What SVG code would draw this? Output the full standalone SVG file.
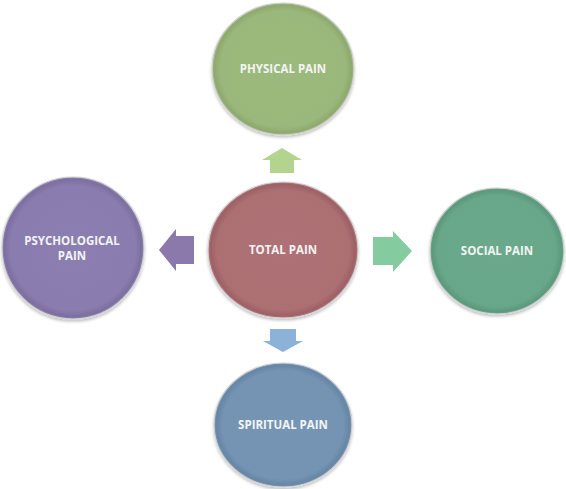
<svg xmlns="http://www.w3.org/2000/svg" width="566" height="489" viewBox="0 0 566 489">
  <defs>
    <style>
      .node { stroke: #d2d2d2; stroke-width: 1.2; filter: url(#shadow); }
      .label { font-family: "Open Sans", "Liberation Sans", sans-serif; font-weight: bold; font-size: 11.5px; fill: #f4f4f4; text-anchor: middle; }
      .arrow { stroke: none; }
    </style>
    <filter id="shadow" x="-10%" y="-10%" width="120%" height="125%">
      <feGaussianBlur in="SourceAlpha" stdDeviation="1.5"/>
      <feOffset dx="0" dy="1.5" result="b"/>
      <feComponentTransfer><feFuncA type="linear" slope="0.25"/></feComponentTransfer>
      <feMerge><feMergeNode/><feMergeNode in="SourceGraphic"/></feMerge>
    </filter>
    <radialGradient id="gGreen" cx="50%" cy="50%" r="50%">
      <stop offset="0" stop-color="#9dba7e"/>
      <stop offset="0.88" stop-color="#9bb87b"/>
      <stop offset="0.97" stop-color="#8ea96f"/>
      <stop offset="1" stop-color="#a9c38d"/>
    </radialGradient>
    <radialGradient id="gRed" cx="50%" cy="50%" r="50%">
      <stop offset="0" stop-color="#ae7175"/>
      <stop offset="0.88" stop-color="#ac6f73"/>
      <stop offset="0.97" stop-color="#9c6165"/>
      <stop offset="1" stop-color="#b98286"/>
    </radialGradient>
    <radialGradient id="gPurple" cx="50%" cy="50%" r="50%">
      <stop offset="0" stop-color="#8c7eb0"/>
      <stop offset="0.88" stop-color="#8a7cae"/>
      <stop offset="0.97" stop-color="#7c6fa0"/>
      <stop offset="1" stop-color="#9a8dbb"/>
    </radialGradient>
    <radialGradient id="gTeal" cx="50%" cy="50%" r="50%">
      <stop offset="0" stop-color="#6ba98c"/>
      <stop offset="0.88" stop-color="#69a78a"/>
      <stop offset="0.97" stop-color="#5c987c"/>
      <stop offset="1" stop-color="#7cb59a"/>
    </radialGradient>
    <radialGradient id="gBlue" cx="50%" cy="50%" r="50%">
      <stop offset="0" stop-color="#7695b5"/>
      <stop offset="0.88" stop-color="#7493b3"/>
      <stop offset="0.97" stop-color="#6785a5"/>
      <stop offset="1" stop-color="#86a2c0"/>
    </radialGradient>
  </defs>

  <g id="connectors">
    <polygon class="arrow" fill="#b3d48f" points="282,148 302,160 294,160 294,173 270,173 270,160 262,160"/>
    <polygon class="arrow" fill="#8a79aa" points="159,250 176,229 176,236 194,236 194,264 176,264 176,271"/>
    <polygon class="arrow" fill="#84cba0" points="412,251 393,231 393,237 373,237 373,265 393,265 393,272"/>
    <polygon class="arrow" fill="#8cb2da" points="270,329 296,329 296,341 303,341 283,352 263,341 270,341"/>
  </g>

  <g id="node-physical">
    <ellipse class="node" cx="283" cy="69" rx="71" ry="66" fill="url(#gGreen)"/>
    <text class="label" x="283" y="73">PHYSICAL PAIN</text>
  </g>

  <g id="node-total">
    <ellipse class="node" cx="283" cy="250" rx="75" ry="68" fill="url(#gRed)"/>
    <text class="label" x="283" y="254">TOTAL PAIN</text>
  </g>

  <g id="node-psychological">
    <ellipse class="node" cx="73" cy="248" rx="71" ry="71" fill="url(#gPurple)"/>
    <text class="label" x="72" y="245">PSYCHOLOGICAL</text>
    <text class="label" x="72" y="260">PAIN</text>
  </g>

  <g id="node-social">
    <ellipse class="node" cx="497" cy="251" rx="67" ry="63" fill="url(#gTeal)"/>
    <text class="label" x="497" y="255">SOCIAL PAIN</text>
  </g>

  <g id="node-spiritual">
    <ellipse class="node" cx="283" cy="425" rx="69" ry="62" fill="url(#gBlue)"/>
    <text class="label" x="283" y="429">SPIRITUAL PAIN</text>
  </g>
</svg>
